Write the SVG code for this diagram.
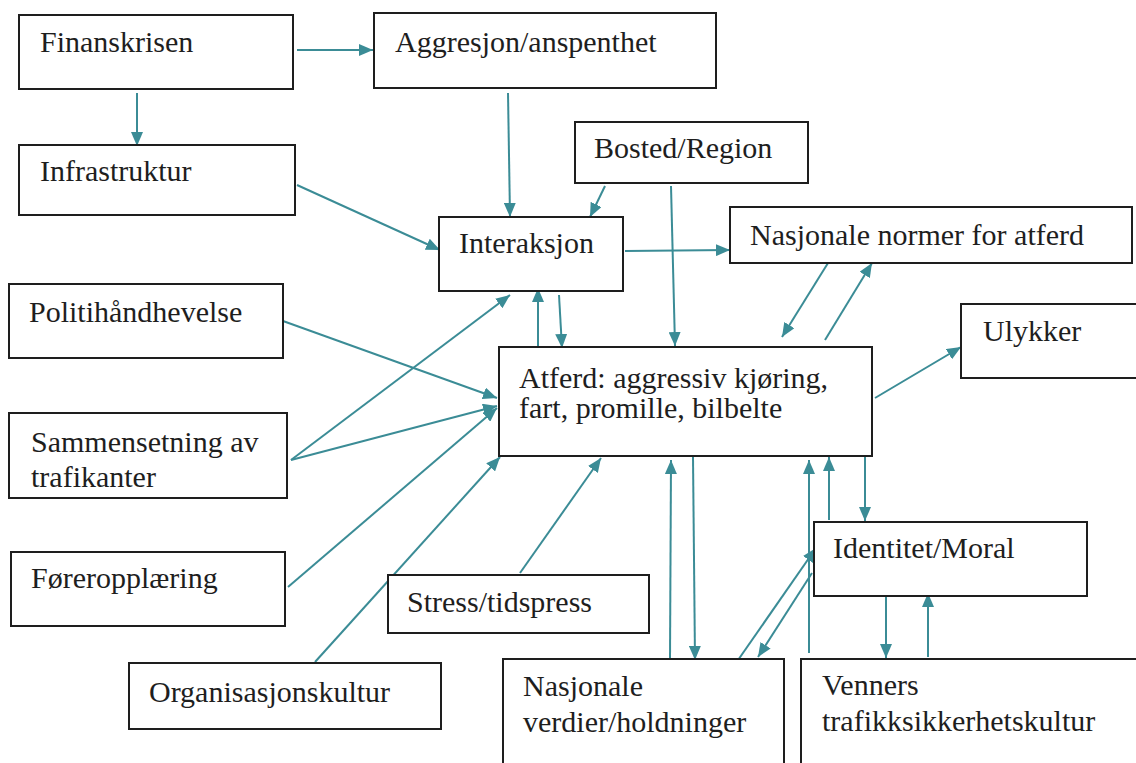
<svg xmlns="http://www.w3.org/2000/svg" width="1136" height="763" viewBox="0 0 1136 763">
<style>
  .box { fill: #ffffff; stroke: #1e1e1e; stroke-width: 2; }
  .lbl { font-family: 'Liberation Serif', 'DejaVu Serif', serif; font-size: 30px; fill: #1e1e1e; }
  .con { stroke: #3b8c96; stroke-width: 2; fill: none; marker-end: url(#ah); }
</style>
<defs>
  <marker id="ah" markerUnits="userSpaceOnUse" markerWidth="14" markerHeight="12" refX="14" refY="6" orient="auto">
    <path d="M0,0 L14,6 L0,12 z" fill="#3b8c96"/>
  </marker>
</defs>
<rect width="1136" height="763" fill="#ffffff"/>

<g id="connectors">
  <line class="con" x1="297" y1="50" x2="373" y2="50"/>
  <line class="con" x1="137" y1="93" x2="137" y2="146"/>
  <line class="con" x1="297" y1="185" x2="440" y2="250"/>
  <line class="con" x1="508" y1="93" x2="510" y2="217"/>
  <line class="con" x1="605" y1="186" x2="590" y2="217"/>
  <line class="con" x1="671" y1="186" x2="675" y2="346"/>
  <line class="con" x1="625" y1="251" x2="730" y2="250"/>
  <line class="con" x1="538" y1="346" x2="538" y2="288"/>
  <line class="con" x1="559" y1="295" x2="562" y2="348"/>
  <line class="con" x1="828" y1="263" x2="782" y2="337"/>
  <line class="con" x1="825" y1="340" x2="872" y2="263"/>
  <line class="con" x1="875" y1="398" x2="961" y2="347"/>
  <line class="con" x1="283" y1="321" x2="497" y2="398"/>
  <line class="con" x1="291" y1="460" x2="510" y2="295"/>
  <line class="con" x1="291" y1="460" x2="497" y2="406"/>
  <line class="con" x1="288" y1="587" x2="497" y2="408"/>
  <line class="con" x1="315" y1="662" x2="500" y2="457"/>
  <line class="con" x1="520" y1="573" x2="601" y2="458"/>
  <line class="con" x1="670" y1="660" x2="671" y2="460"/>
  <line class="con" x1="693" y1="457" x2="695" y2="660"/>
  <line class="con" x1="736" y1="663" x2="816" y2="548"/>
  <line class="con" x1="812" y1="573" x2="758" y2="657"/>
  <line class="con" x1="809" y1="653" x2="809" y2="460"/>
  <line class="con" x1="829" y1="520" x2="829" y2="457"/>
  <line class="con" x1="865" y1="457" x2="865" y2="521"/>
  <line class="con" x1="886" y1="590" x2="886" y2="658"/>
  <line class="con" x1="928" y1="657" x2="928" y2="593"/>
</g>

<g id="finanskrisen">
  <rect class="box" x="19" y="15" width="274" height="74"/>
  <text class="lbl" x="40" y="52">Finanskrisen</text>
</g>
<g id="aggresjon">
  <rect class="box" x="374" y="13" width="342" height="75"/>
  <text class="lbl" x="395" y="52">Aggresjon/anspenthet</text>
</g>
<g id="infrastruktur">
  <rect class="box" x="19" y="145" width="276" height="70"/>
  <text class="lbl" x="40" y="181">Infrastruktur</text>
</g>
<g id="bosted">
  <rect class="box" x="575" y="122" width="233" height="61"/>
  <text class="lbl" x="594" y="158">Bosted/Region</text>
</g>
<g id="interaksjon">
  <rect class="box" x="439" y="217" width="184" height="74"/>
  <text class="lbl" x="459" y="253">Interaksjon</text>
</g>
<g id="nasjonale-normer">
  <rect class="box" x="730" y="207" width="402" height="56"/>
  <text class="lbl" x="750" y="245">Nasjonale normer for atferd</text>
</g>
<g id="ulykker">
  <rect class="box" x="961" y="304" width="180" height="74"/>
  <text class="lbl" x="983" y="341">Ulykker</text>
</g>
<g id="politi">
  <rect class="box" x="9" y="284" width="274" height="74"/>
  <text class="lbl" x="29" y="322">Politihåndhevelse</text>
</g>
<g id="atferd">
  <rect class="box" x="499" y="347" width="373" height="109"/>
  <text class="lbl" x="519" y="388">Atferd: aggressiv kjøring,</text>
  <text class="lbl" x="519" y="418">fart, promille, bilbelte</text>
</g>
<g id="sammensetning">
  <rect class="box" x="9" y="413" width="278" height="85"/>
  <text class="lbl" x="31" y="452">Sammensetning av</text>
  <text class="lbl" x="31" y="487">trafikanter</text>
</g>
<g id="identitet">
  <rect class="box" x="814" y="522" width="273" height="74"/>
  <text class="lbl" x="833" y="558">Identitet/Moral</text>
</g>
<g id="foreropplaering">
  <rect class="box" x="11" y="552" width="274" height="74"/>
  <text class="lbl" x="31" y="588">Føreropplæring</text>
</g>
<g id="stress">
  <rect class="box" x="388" y="575" width="261" height="58"/>
  <text class="lbl" x="407" y="612">Stress/tidspress</text>
</g>
<g id="organisasjonskultur">
  <rect class="box" x="129" y="663" width="312" height="66"/>
  <text class="lbl" x="149" y="702">Organisasjonskultur</text>
</g>
<g id="nasjonale-verdier">
  <rect class="box" x="503" y="659" width="281" height="120"/>
  <text class="lbl" x="523" y="696">Nasjonale</text>
  <text class="lbl" x="523" y="732">verdier/holdninger</text>
</g>
<g id="venners">
  <rect class="box" x="801" y="659" width="350" height="120"/>
  <text class="lbl" x="822" y="695">Venners</text>
  <text class="lbl" x="822" y="731">trafikksikkerhetskultur</text>
</g>
</svg>
